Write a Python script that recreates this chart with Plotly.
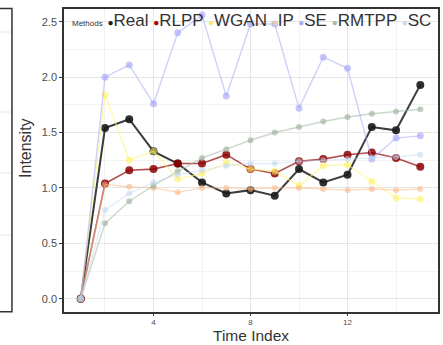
import plotly.graph_objects as go

time_index = list(range(1, 16))
real  = [0, 1.54, 1.62, 1.33, 1.22, 1.05, 0.95, 0.98, 0.93, 1.17, 1.05, 1.12, 1.55, 1.52, 1.93]
rlpp  = [0, 1.04, 1.16, 1.17, 1.22, 1.22, 1.30, 1.17, 1.13, 1.24, 1.26, 1.30, 1.32, 1.27, 1.19]
wgan  = [0, 1.84, 1.25, 1.33, 1.08, 1.13, 1.23, 1.17, 1.15, 1.02, 1.20, 1.21, 1.06, 0.91, 0.90]
ip    = [0, 1.03, 1.01, 1.00, 0.96, 1.00, 1.00, 0.99, 1.00, 1.00, 0.99, 0.98, 0.99, 0.98, 0.99]
se    = [0, 2.00, 2.11, 1.76, 2.40, 2.56, 1.83, 2.48, 2.48, 1.72, 2.18, 2.08, 1.26, 1.45, 1.47]
rmtpp = [0, 0.68, 0.88, 1.02, 1.15, 1.27, 1.35, 1.43, 1.50, 1.55, 1.60, 1.64, 1.67, 1.69, 1.71]
sc    = [0, 0.80, 0.95, 1.05, 1.12, 1.16, 1.20, 1.22, 1.22, 1.24, 1.25, 1.26, 1.27, 1.28, 1.30]

names = ["Real", "RLPP", "WGAN", "IP", "SE", "RMTPP", "SC"]
series = [real, rlpp, wgan, ip, se, rmtpp, sc]
line_colors = ["rgba(40,40,40,0.9)", "rgba(150,20,20,0.75)", "rgba(255,245,120,0.6)",
               "rgba(250,190,140,0.55)", "rgba(170,170,250,0.55)", "rgba(170,190,170,0.6)",
               "rgba(200,220,240,0.5)"]
marker_colors = ["rgba(25,25,25,0.9)", "rgba(140,0,0,0.85)", "rgba(255,240,100,0.6)",
                 "rgba(250,180,130,0.55)", "rgba(160,160,250,0.6)", "rgba(160,180,160,0.65)",
                 "rgba(190,215,240,0.55)"]
legend_colors = ["#222222", "#aa0000", "#f5e97a", "#f5c8a0", "#aab0f0", "#a8bca8", "#c6dcee"]
widths = [2, 1.6, 1.4, 1.4, 1.4, 1.4, 1.4]
msizes = [8, 8, 7, 6, 7, 6, 6]

fig = go.Figure()
for n, ys, lc, mc, w, ms in zip(names, series, line_colors, marker_colors, widths, msizes):
    fig.add_trace(go.Scatter(x=time_index, y=ys, mode="lines+markers", name=n,
                             line=dict(color=lc, width=w),
                             marker=dict(color=mc, size=ms), showlegend=False))

H, T, B = 345.0, 9.0, 33.0
PH = H - T - B
W, L = 373.7, 64.0
px = lambda p: (p - L) / W
py = lambda p: (H - B - p) / PH

# legend as text
parts = ['<span style="font-size:8px">Methods</span>']
for n, c in zip(names, legend_colors):
    parts.append('<span style="color:%s;font-size:10px">●</span>%s' % (c, n))
fig.add_annotation(xref="paper", yref="paper", x=px(70), y=py(20), xanchor="left", yanchor="middle",
                   text=" ".join(parts), showarrow=False,
                   font=dict(family="Liberation Sans", size=17, color="#333333"))

# axis titles
fig.add_annotation(xref="paper", yref="paper", x=px(251), y=py(335), xanchor="center", yanchor="middle",
                   text="Time Index", showarrow=False, borderpad=0,
                   font=dict(family="Liberation Sans", size=15.5, color="#333333"))
fig.add_annotation(xref="paper", yref="paper", x=px(25), y=py(148), xanchor="center", yanchor="middle",
                   text="Intensity", showarrow=False, textangle=-90,
                   font=dict(family="Liberation Sans", size=16, color="#333333"))

# fragment of neighbouring panel on the left
fig.add_shape(type="rect", xref="paper", yref="paper", x0=px(-5), x1=px(12), y0=py(311.7), y1=py(8.5),
              line=dict(color="#333333", width=1.5), fillcolor="rgba(0,0,0,0)", layer="above")
for yy in [32, 112, 173, 235]:
    fig.add_shape(type="line", xref="paper", yref="paper", x0=px(0), x1=px(11), y0=py(yy), y1=py(yy),
                  line=dict(color="#e6e6e6", width=1))

fig.update_layout(
    width=443, height=345,
    margin=dict(l=64, r=5, t=T, b=B, autoexpand=False),
    paper_bgcolor="white", plot_bgcolor="white",
    font=dict(family="Liberation Sans", color="#4d4d4d"),
    xaxis=dict(range=[0.31, 15.73], tickvals=[4, 8, 12], ticktext=["4", "8", "12"],
               showgrid=True, gridcolor="#e5e5e5", gridwidth=1,
               minor=dict(tickvals=[2, 6, 10, 14], showgrid=True, gridcolor="#f2f2f2", gridwidth=0.8),
               showline=True, linecolor="#333333", linewidth=1.5, mirror=True,
               ticks="outside", ticklen=2, tickcolor="#333333", automargin=False,
               tickfont=dict(size=8, color="#4d4d4d"), zeroline=False),
    yaxis=dict(range=[-0.12, 2.615], tickvals=[0, 0.5, 1.0, 1.5, 2.0, 2.5],
               ticktext=["0.0", "0.5", "1.0", "1.5", "2.0", "2.5"],
               showgrid=True, gridcolor="#e5e5e5", gridwidth=1,
               minor=dict(tickvals=[0.25, 0.75, 1.25, 1.75, 2.25], showgrid=True,
                          gridcolor="#f2f2f2", gridwidth=0.8),
               showline=True, linecolor="#333333", linewidth=1.5, mirror=True,
               ticks="outside", ticklen=3, tickcolor="#333333", automargin=False,
               tickfont=dict(size=11, color="#4d4d4d"), zeroline=False),
)

fig.write_html("out.html", config={"displayModeBar": False},
               post_script="document.body.style.margin='0';document.body.style.padding='0';")
